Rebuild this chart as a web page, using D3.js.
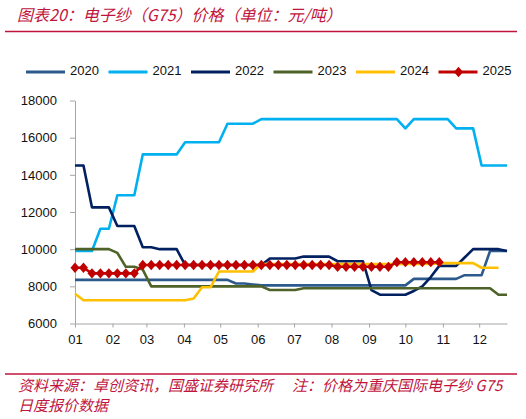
<!DOCTYPE html>
<html>
<head>
<meta charset="utf-8">
<script src="https://cdn.jsdelivr.net/npm/d3@7"></script>
<style>
  body { margin: 0; background: #fff; }
  svg { display: block; }
  .axis text { font-family: "Liberation Sans", Arial, sans-serif; font-size: 13px; fill: #111; }
  .axis path, .axis line { stroke: #a6a6a6; }
</style>
</head>
<body>
<div id="chart"></div>
<script>
let width = 526,
    height = 419;

// 周数据（每周一个点），从 1 月 1 日起
const years = ["2020", "2021", "2022", "2023", "2024", "2025"];
const colors = ["#2c5a8c", "#00b0f0", "#002060", "#4f6228", "#ffc000", "#c00000"];

const v2020 = [8350, 8350, 8350, 8350, 8350, 8350, 8350, 8350, 8350, 8350, 8350, 8350, 8350, 8350, 8350, 8350, 8350, 8350, 8350,
  8150, 8150, 8100,
  8050, 8050, 8050, 8050, 8050, 8050, 8050, 8050, 8050, 8050, 8050, 8050, 8050, 8050, 8050, 8050, 8050, 8050,
  8400, 8400, 8400, 8400, 8400, 8400, 8600, 8600, 8600, 9900, 9900, 9900];
const v2021 = [9900, 9900, 9900, 11100, 11100, 12900, 12900, 12900, 15100, 15100, 15100, 15100, 15100,
  15750, 15750, 15750, 15750, 15750, 16750, 16750, 16750, 16750,
  17000, 17000, 17000, 17000, 17000, 17000, 17000, 17000, 17000, 17000, 17000, 17000, 17000, 17000, 17000, 17000, 17000,
  16500, 17000, 17000, 17000, 17000, 17000, 16500, 16500, 16500, 14500, 14500, 14500, 14500];
const v2022 = [14500, 14500, 12250, 12250, 12250, 11250, 11250, 11250, 10100, 10100, 10000, 10000, 10000,
  9150, 9150, 9150, 9150, 9150, 9150, 9150, 9150, 9150, 9150,
  9500, 9500, 9500, 9500, 9600, 9600, 9600, 9600, 9350, 9350, 9350, 9350,
  7800, 7550, 7550, 7550, 7550, 7750, 8000, 8500, 9100, 9100, 9100, 9550,
  10000, 10000, 10000, 10000, 9900];
const v2023 = [10000, 10000, 10000, 10000, 10000, 9800, 9050, 9050, 8900,
  8000, 8000, 8000, 8000, 8000, 8000, 8000, 8000, 8000, 8000, 8000, 8000, 8000, 8000,
  7800, 7800, 7800, 7800,
  7900, 7900, 7900, 7900, 7900, 7900, 7900, 7900, 7900, 7900, 7900, 7900, 7900, 7900, 7900, 7900, 7900, 7900, 7900, 7900, 7900, 7900, 7900,
  7550, 7550];
const v2024 = [7600, 7250, 7250, 7250, 7250, 7250, 7250, 7250, 7250, 7250, 7250, 7250, 7250, 7250,
  7350, 7950, 7950, 8800, 8800, 8800, 8800, 8800,
  9200, 9200, 9200, 9200, 9200, 9200, 9200, 9200, 9200, 9200, 9200, 9200, 9200, 9200, 9200, 9200, 9200, 9200, 9200, 9200, 9200,
  9250, 9250, 9250, 9250, 9250, 9000, 9000, 9000];
const v2025 = [9000, 9000, 8700, 8700, 8700, 8700, 8700, 8700,
  9150, 9150, 9150, 9150, 9150, 9150, 9150, 9150, 9150, 9150, 9150, 9150, 9150, 9150, 9150, 9150, 9150, 9150, 9150, 9150, 9150, 9150, 9150,
  9050, 9050, 9050, 9050, 9050, 9050, 9050,
  9300, 9300, 9300, 9300, 9300, 9300];
const series = [v2020, v2021, v2022, v2023, v2024, v2025];

const yTicks = [6000, 8000, 10000, 12000, 14000, 16000, 18000];

const title = "图表20：电子纱（G75）价格（单位：元/吨）";
const source = "资料来源：卓创资讯，国盛证券研究所";
const note1 = "注：价格为重庆国际电子纱 G75";
const note2 = "日度报价数据";

const red = "#c0143c";
const day = 864e5;
const start = Date.UTC(2021, 0, 1);

const svg = d3.select("#chart")
  .append("svg")
  .attr("width", width)
  .attr("height", height);

// 标题 + 红线
svg.append("text")
  .attr("x", 17).attr("y", 21)
  .attr("fill", red)
  .style("font-family", "'Noto Sans CJK SC', sans-serif")
  .style("font-size", "16px")
  .style("font-style", "italic")
  .text(title);

svg.append("line").attr("x1", 5).attr("x2", 517).attr("y1", 31.5).attr("y2", 31.5)
  .attr("stroke", red).attr("stroke-width", 1.5);

let x = d3.scaleUtc()
  .domain([new Date(start), new Date(start + 357 * day)])
  .range([75, 507]);

let y = d3.scaleLinear()
  .domain([6000, 18000])
  .range([323.5, 100.5]);

svg.append("g")
  .attr("class", "axis")
  .attr("transform", "translate(0,323.5)")
  .call(d3.axisBottom(x)
    .tickValues(d3.utcMonth.range(new Date(start), new Date(start + 358 * day)))
    .tickFormat(d3.utcFormat("%m"))
    .tickSize(4).tickSizeOuter(0).tickPadding(7));

svg.append("g")
  .attr("class", "axis")
  .attr("transform", "translate(75,0)")
  .call(d3.axisLeft(y).tickValues(yTicks).tickFormat(d3.format("d"))
    .tickSize(5).tickSizeOuter(0).tickPadding(13));

let line = d3.line()
  .x((d, i) => x(new Date(start + i * 7 * day)))
  .y(d => y(d));

let diamond = d3.symbol().type(d3.symbolDiamond2).size(52);

series.forEach((vals, k) => {
  let g = svg.append("g");
  g.append("path")
    .datum(vals)
    .attr("fill", "none")
    .attr("stroke", colors[k])
    .attr("stroke-width", 2.6)
    .attr("stroke-linejoin", "round")
    .attr("d", line);

  if (years[k] === "2025") {
    g.selectAll("path.mk")
      .data(vals)
      .join("path")
      .attr("class", "mk")
      .attr("transform", (d, i) => `translate(${x(new Date(start + i * 7 * day))},${y(d)}) scale(1,1.15)`)
      .attr("d", diamond)
      .attr("fill", colors[k]);
  }
});

// 图例
let legend = svg.append("g").attr("transform", "translate(26,72)");
years.forEach((yr, k) => {
  let lg = legend.append("g").attr("transform", `translate(${k * 82.5},0)`);
  lg.append("line").attr("x1", 0).attr("x2", 39)
    .attr("stroke", colors[k]).attr("stroke-width", 3);
  if (yr === "2025") {
    lg.append("path").attr("d", diamond).attr("fill", colors[k])
      .attr("transform", "translate(20,0) scale(1,1.15)");
  }
  lg.append("text")
    .attr("x", 44).attr("y", 0)
    .attr("dominant-baseline", "middle")
    .style("font-family", "'Liberation Sans', Arial, sans-serif")
    .style("font-size", "13px")
    .attr("fill", "#111")
    .text(yr);
});

// 底部来源
svg.append("line").attr("x1", 5).attr("x2", 517).attr("y1", 374).attr("y2", 374)
  .attr("stroke", red).attr("stroke-width", 1.5);

let foot = svg.append("g")
  .attr("fill", red)
  .style("font-family", "'Noto Sans CJK SC', sans-serif")
  .style("font-size", "15px")
  .style("font-style", "italic");
foot.append("text").attr("x", 18).attr("y", 391).text(source);
foot.append("text").attr("x", 292).attr("y", 391).text(note1);
foot.append("text").attr("x", 18).attr("y", 411).text(note2);
</script>
</body>
</html>
